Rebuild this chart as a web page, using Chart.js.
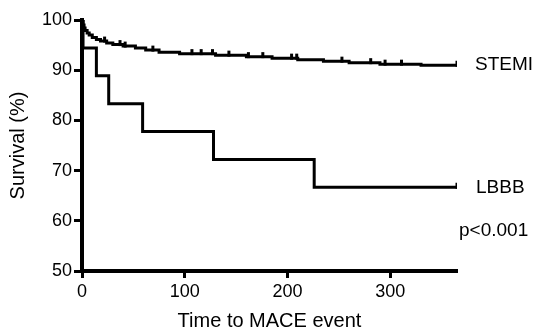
<!DOCTYPE html>
<html>
<head>
<meta charset="utf-8">
<script src="https://cdn.jsdelivr.net/npm/chart.js@4.4.1/dist/chart.umd.min.js"></script>
<style>
  html, body { margin: 0; padding: 0; background: #fff; }
  #wrap { width: 536px; height: 333px; }
</style>
</head>
<body>
<div id="wrap"><canvas id="km"></canvas></div>
<script>
// Kaplan-Meier steps (time in days, survival in %)
const stemiTimes = [0, 1, 2, 3, 5, 7, 10, 14, 18, 24, 30, 40, 52, 62, 75, 95, 130, 160, 185, 210, 235, 260, 290, 330, 365];
const stemiSurv = [100, 99.0, 98.4, 97.9, 97.4, 97.0, 96.5, 96.1, 95.8, 95.4, 95.1, 94.8, 94.4, 94.0, 93.6, 93.3, 93.0, 92.7, 92.4, 92.1, 91.8, 91.5, 91.2, 91.0, 91.0];
const stemiCensored = [22, 37, 42, 69, 107, 116, 127, 143, 162, 176, 204, 209, 253, 281, 295, 311, 365];

const lbbbTimes = [0, 1, 14, 26, 59, 128, 226, 365];
const lbbbSurv = [100, 94.44, 88.89, 83.33, 77.78, 72.22, 66.67, 66.67];
const lbbbCensored = [365];

const xTicks = [0, 100, 200, 300];
const yTicks = [50, 60, 70, 80, 90, 100];

const toPoints = (ts, ys) => ts.map((t, i) => ({ x: t, y: ys[i] }));
// survival at a censor time = value of the last step at or before it
const survAt = (ts, ys, t) => {
  let v = ys[0];
  ts.forEach((tt, i) => { if (tt <= t) v = ys[i]; });
  return v;
};

const FONT = "'Liberation Sans', Arial, sans-serif";

const labelsPlugin = {
  id: "curveLabels",
  afterDraw(chart) {
    const { ctx, scales } = chart;
    const xs = scales.x, ys = scales.y;
    const xEnd = xs.getPixelForValue(365);
    ctx.save();
    ctx.fillStyle = "#000";
    ctx.font = "19px " + FONT;
    ctx.textBaseline = "middle";
    ctx.fillText("STEMI", xEnd + 18, ys.getPixelForValue(stemiSurv[stemiSurv.length - 1]));
    ctx.fillText("LBBB", xEnd + 19, ys.getPixelForValue(lbbbSurv[lbbbSurv.length - 1]));
    ctx.fillText("p<0.001", xEnd + 2, ys.getPixelForValue(58));
    ctx.restore();
  }
};

new Chart(document.getElementById("km"), {
  type: "line",
  data: {
    datasets: [
      {
        label: "STEMI",
        data: toPoints(stemiTimes, stemiSurv),
        borderColor: "#000",
        borderWidth: 3,
        stepped: true,
        pointRadius: 0,
        fill: false
      },
      {
        label: "LBBB",
        data: toPoints(lbbbTimes, lbbbSurv),
        borderColor: "#000",
        borderWidth: 3,
        stepped: true,
        pointRadius: 0,
        fill: false
      },
      {
        label: "censored",
        data: stemiCensored.map((t) => ({ x: t, y: survAt(stemiTimes, stemiSurv, t) + 0.3 }))
          .concat(lbbbCensored.map((t) => ({ x: t, y: survAt(lbbbTimes, lbbbSurv, t) + 0.3 }))),
        showLine: false,
        pointStyle: "line",
        rotation: 90,
        pointRadius: 3,
        borderColor: "#000",
        borderWidth: 3
      }
    ]
  },
  options: {
    responsive: true,
    maintainAspectRatio: false,
    animation: false,
    layout: { padding: { top: 20, right: 79, bottom: 0, left: 0 } },
    plugins: {
      legend: { display: false },
      tooltip: { enabled: false }
    },
    scales: {
      x: {
        type: "linear",
        min: 0,
        max: 365,
        afterFit: (s) => { s.height = 62; },
        afterBuildTicks: (s) => { s.ticks = xTicks.map((v) => ({ value: v })); },
        border: { display: true, color: "#000", width: 4 },
        grid: { display: true, drawOnChartArea: false, drawTicks: true, tickLength: 7, tickWidth: 3, tickColor: "#000" },
        ticks: { color: "#000", padding: 3, font: { family: FONT, size: 18 } },
        title: {
          display: true,
          text: "Time to MACE event",
          color: "#000",
          font: { family: FONT, size: 20 },
          padding: { top: 0, bottom: 0 }
        }
      },
      y: {
        min: 50,
        max: 100,
        afterFit: (s) => { s.width = 82; },
        afterBuildTicks: (s) => { s.ticks = yTicks.map((v) => ({ value: v })); },
        border: { display: true, color: "#000", width: 4 },
        grid: { display: true, drawOnChartArea: false, drawTicks: true, tickLength: 8, tickWidth: 3, tickColor: "#000" },
        ticks: { color: "#000", padding: 2, font: { family: FONT, size: 18 } },
        title: {
          display: true,
          text: "Survival (%)",
          color: "#000",
          font: { family: FONT, size: 20 },
          padding: { top: 6, bottom: 0 }
        }
      }
    }
  },
  plugins: [labelsPlugin]
});
</script>
</body>
</html>
